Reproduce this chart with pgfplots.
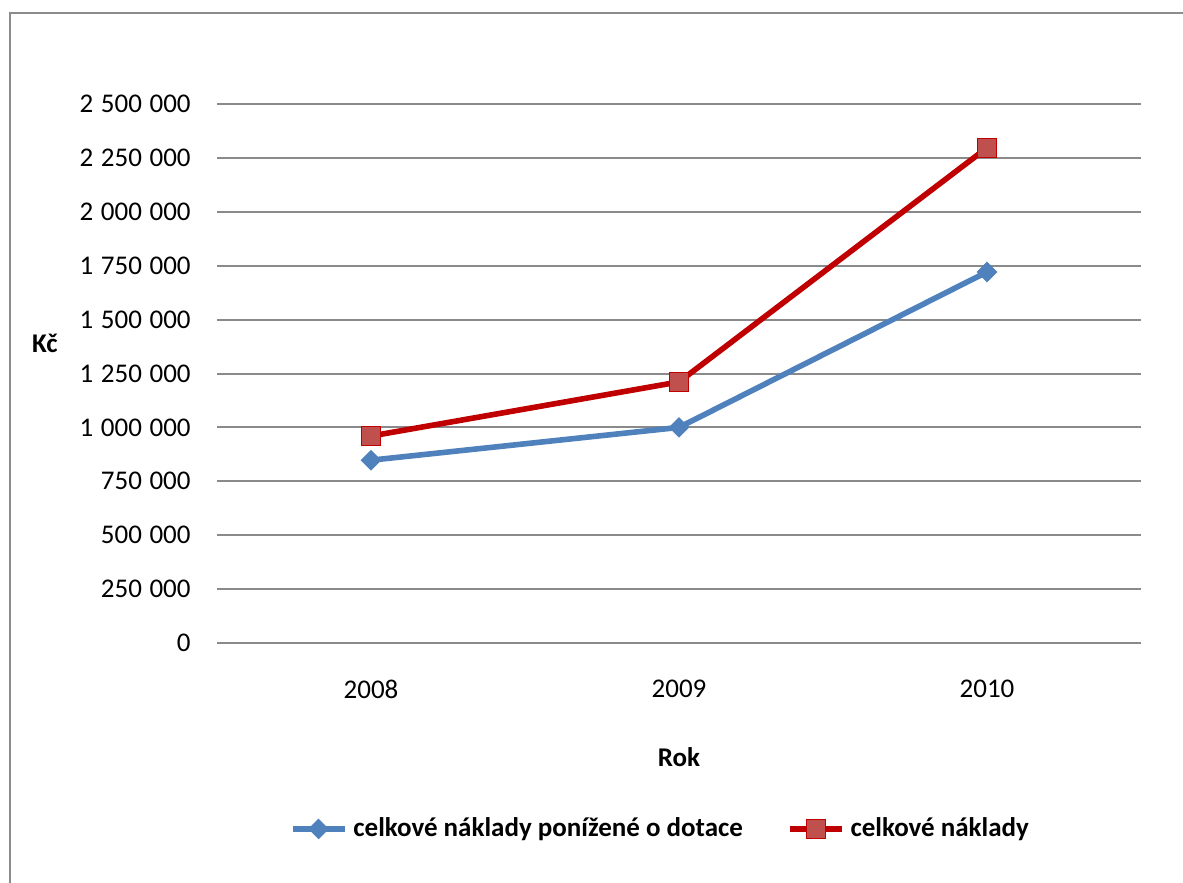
\documentclass[border=0pt]{standalone}
\usepackage{fontspec}
\setmainfont{Carlito}
\usepackage{pgfplots}
\pgfplotsset{compat=1.18}
\definecolor{sblue}{HTML}{4F81BD}
\definecolor{sred}{HTML}{C00000}
\definecolor{sredfill}{HTML}{C0504D}
\definecolor{gridgray}{HTML}{8A8A8A}
\definecolor{framegray}{HTML}{8C8C8C}

\begin{document}
\begin{tikzpicture}[font=\fontsize{13.5}{16}\selectfont]
  % page = 1183 x 883 px at 0.5pt per px
  \useasboundingbox (0,0) rectangle (591.5pt,-441.5pt);
  \draw[framegray, line width=1pt] (5pt,-445pt) -- (5pt,-6.5pt) -- (595pt,-6.5pt);
  \begin{axis}[
      at={(108.5pt,-321.5pt)}, anchor=south west,
      scale only axis,
      width=462pt, height=269.5pt,
      xmin=0.5, xmax=3.5,
      ymin=0, ymax=2500000,
      xtick={1,2,3},
      xticklabels={2008,2009,2010},
      ytick={0,250000,...,2500000},
      scaled y ticks=false,
      yticklabel={\pgfmathprintnumber[assume math mode=true,fixed,precision=0,1000 sep={\hspace{0.28em}}]{\tick}},
      major tick length=0pt,
      axis line style={draw=none},
      ymajorgrids,
      grid style={gridgray, line width=1pt},
      yticklabel style={anchor=east, inner sep=0pt, xshift=-13pt},
      xticklabel style={anchor=center, inner sep=0pt, yshift=-23pt},
      xlabel={\bfseries Rok},
      xlabel style={at={(rel axis cs:0.5,0)}, anchor=center, yshift=-57pt},
      ylabel={\bfseries Kč},
      ylabel style={rotate=-90, at={(rel axis cs:0,0.5566)}, anchor=center, xshift=-86pt},
      legend columns=2,
      legend style={at={(rel axis cs:0.482,-0.345)}, anchor=center, draw=none,
        font=\bfseries\fontsize{13.5}{16}\selectfont,
        /tikz/every even column/.append style={column sep=19pt},
        nodes={inner xsep=3pt}},
      legend image code/.code={
        \draw[mark repeat=2, mark phase=2] plot coordinates {(0pt,0pt) (13pt,0pt) (26pt,0pt)};},
    ]
    \addplot[sblue, line width=2.8pt, mark=square*,
      mark options={rotate=45, mark size=3.4pt, line width=0.5pt, fill=sblue, draw=sblue}]
      coordinates {(1,848000) (2,1000000) (3,1721000)};
    \addlegendentry{celkové náklady ponížené o dotace}
    \addplot[sred, line width=2.8pt, mark=square*,
      mark options={mark size=4.75pt, line width=0.6pt, fill=sredfill, draw=sred}]
      coordinates {(1,960000) (2,1211000) (3,2297000)};
    \addlegendentry{celkové náklady}
  \end{axis}
\end{tikzpicture}
\end{document}
